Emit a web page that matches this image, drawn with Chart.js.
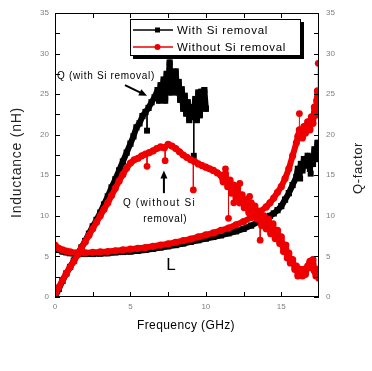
<!DOCTYPE html>
<html>
<head>
<meta charset="utf-8">
<script src="https://cdn.jsdelivr.net/npm/chart.js@4.4.0/dist/chart.umd.min.js"></script>
<style>
html, body { margin: 0; padding: 0; background: #fff; }
</style>
</head>
<body>
<canvas id="chart" width="372" height="371"></canvas>
<script>
// axis ticks
var xTicks = [0, 5, 10, 15];
var xMinor = [2.5, 7.5, 12.5];
var yTicks = [0, 5, 10, 15, 20, 25, 30, 35];
var yMinor = [2.5, 7.5, 12.5, 17.5, 22.5, 27.5, 32.5];

var seriesNames = ['With Si removal', 'Without Si removal'];

// Q-factor, with Si removal  [GHz, Q]
var qWith = [[0,0],[0.25,1.0],[0.5,2.0],[0.75,2.9],[1,3.7],[1.25,4.5],[1.5,5.3],[1.75,6.1],[2,6.9],[2.25,7.8],[2.5,8.7],[2.75,9.5],
  [3,10.4],[3.25,11.4],[3.5,12.4],[3.75,13.5],[4,14.5],[4.25,15.6],[4.5,16.7],[4.75,17.8],[5,18.9],[5.2,19.8],[5.4,20.9],[5.6,21.4],
  [5.8,22.3],[6,22.8],[6.2,23.3],[6.4,24.0],[6.6,24.6],[6.8,25.5],[6.9,24.2],[7,26.1],[7.1,25.3],[7.2,26.8],[7.3,24.2],
  [7.4,27.5],[7.5,26.2],[7.6,28.9],[7.7,25.2],[7.8,27.2],[7.9,26.0],[8,27.8],[8.1,25.2],[8.2,26.5],[8.3,24.3],[8.4,25.6],[8.5,23.2],
  [8.6,24.8],[8.7,22.6],[8.8,24.0],[8.9,21.8],[9,23.4],[9.1,22.2],[9.2,23.0],[9.3,24.4],[9.4,21.8],[9.5,25.2],[9.6,22.4],[9.7,25.3],
  [9.8,23.5],[9.9,25.5],[10,23.2]];
// isolated points hanging off the band: [GHz, band value, point value]
var qWithSpikes = [[6.1,22.9,20.5],[9.2,22.6,17.4]];

// Q-factor, without Si removal
var qWithout = [[0,0.2],[0.25,1.2],[0.5,2.1],[0.75,2.9],[1,3.7],[1.25,4.4],[1.5,5.2],[1.75,6.0],[2,6.8],[2.25,7.6],[2.5,8.4],[2.75,9.2],
  [3,10.0],[3.25,10.8],[3.5,11.6],[3.75,12.5],[4,13.4],[4.25,14.3],[4.5,15.1],[4.75,15.9],[5,16.5],[5.25,16.9],[5.5,17.1],[5.75,17.4],
  [6,17.6],[6.25,17.8],[6.5,18.0],[6.75,18.3],[7,18.5],[7.25,18.4],[7.5,18.8],[7.75,18.6],[8,18.3],[8.25,17.9],
  [8.5,17.5],[8.75,17.2],[9,16.9],[9.25,16.7],[9.5,16.4],[9.75,16.2],[10,16.0],[10.25,15.8],[10.5,15.6],[10.75,15.3],
  [11,15.0],[11.15,14.2],[11.3,15.2],[11.45,13.6],[11.6,14.4],[11.7,12.8],[11.85,13.8],[12,12.2],[12.1,13.4],[12.25,11.6],
  [12.4,12.6],[12.55,11.0],[12.7,12.0],[12.85,10.4],[13,11.6],[13.1,10.0],[13.25,11.2],[13.4,9.6],[13.5,10.6],[13.7,8.8],
  [13.85,10.0],[14,8.4],[14.15,9.6],[14.3,7.8],[14.45,9.0],[14.6,7.2],[14.75,8.2],[14.9,6.6],[15,7.4],[15.15,5.6],[15.3,6.4],[15.4,4.8],
  [15.5,5.4],[15.6,4.2],[15.75,4.6],[15.9,3.4],[16,3.8],[16.1,2.6],[16.25,3.4],[16.4,2.6],[16.5,3.4],[16.6,2.8],[16.75,3.8],[16.9,4.4],
  [17,3.6],[17.1,4.6],[17.2,3.2],[17.3,2.6],[17.4,3.4],[17.5,2.3]];
var qWithoutSpikes = [[6.1,17.65,16.1],[7.3,18.5,16.8],[9.17,16.8,13.2],[11.3,15.0,15.8],[11.5,13.8,9.7],[12.25,12.0,14.0],
  [12.9,11.0,12.4],[13.6,9.8,7.0],[11.85,13.4,11.6]];

// inductance, with Si removal  [GHz, nH]
var lWith = [[0,6.2],[0.25,5.8],[0.5,5.6],[0.75,5.5],[1,5.4],[1.5,5.3],[2,5.3],[2.5,5.3],[3,5.35],[3.5,5.4],[4,5.5],[4.5,5.55],
  [5,5.6],[5.5,5.7],[6,5.8],[6.5,5.95],[7,6.1],[7.5,6.25],[8,6.4],[8.5,6.6],[9,6.8],[9.5,7.0],[10,7.2],[10.5,7.4],[11,7.6],[11.5,7.85],
  [12,8.1],[12.5,8.4],[13,8.8],[13.5,9.3],[14,9.8],[14.25,10.0],[14.5,10.3],[14.75,10.7],[15,11.2],[15.25,12.0],[15.5,12.8],
  [15.75,13.8],[16,14.8],[16.1,15.8],[16.2,15.0],[16.3,16.4],[16.4,15.6],[16.5,17.0],[16.6,16.2],[16.75,17.4],[16.9,15.8],[17,17.2],
  [17.1,16.4],[17.2,18.2],[17.3,17.0],[17.4,19.0],[17.5,18.0]];
var lWithSpikes = [[16.25,15.6,14.6],[16.95,16.4,15.2]];

// inductance, without Si removal
var lWithout = [[0,6.4],[0.25,6.0],[0.5,5.8],[0.75,5.65],[1,5.55],[1.5,5.45],[2,5.45],[2.5,5.5],[3,5.55],[3.5,5.6],[4,5.7],[4.5,5.8],
  [5,5.9],[5.5,6.0],[6,6.1],[6.5,6.25],[7,6.4],[7.5,6.55],[8,6.75],[8.5,6.95],[9,7.15],[9.5,7.4],[10,7.65],[10.5,7.9],[11,8.2],
  [11.5,8.5],[12,8.9],[12.5,9.3],[13,9.8],[13.5,10.4],[14,11.1],[14.25,11.6],[14.5,12.2],[14.75,12.9],[15,13.6],[15.25,14.6],
  [15.5,15.8],[15.75,17.4],[16,19.0],[16.1,19.8],[16.2,20.6],[16.3,20.2],[16.4,19.6],[16.5,21.0],[16.6,20.2],[16.75,21.6],[16.9,20.6],
  [17,22.2],[17.1,21.4],[17.2,23.4],[17.3,22.4],[17.35,24.2],[17.4,25.4],[17.5,24.0]];
var lWithoutSpikes = [[16.2,20.6,22.6],[17.45,25.4,28.8]];

function pts(arr) {
  return arr.map(function (p) { return { x: p[0], y: p[1] }; });
}
// each spike: band point, loose point, then a gap
function spikePts(arr) {
  var out = [];
  arr.forEach(function (s) {
    out.push({ x: s[0], y: s[1] }, { x: s[0], y: s[2] }, { x: s[0], y: null });
  });
  return out;
}

var FONT = 'Liberation Sans, Arial, sans-serif';
var RED = '#ee0000';

// draw text stretched to a given width (the original has wide letter spacing)
function spacedText(ctx, text, x, y, width) {
  ctx.letterSpacing = '0px';
  var w = ctx.measureText(text).width;
  var sp = (width - w) / text.length;
  ctx.letterSpacing = sp + 'px';
  ctx.textAlign = 'left';
  ctx.fillText(text, x, y);
  ctx.letterSpacing = '0px';
}

function arrow(ctx, x1, y1, x2, y2) {
  var a = Math.atan2(y2 - y1, x2 - x1);
  ctx.beginPath();
  ctx.moveTo(x1, y1);
  ctx.lineTo(x2 - 5 * Math.cos(a), y2 - 5 * Math.sin(a));
  ctx.lineWidth = 2;
  ctx.strokeStyle = '#000';
  ctx.stroke();
  ctx.beginPath();
  ctx.moveTo(x2, y2);
  ctx.lineTo(x2 - 8 * Math.cos(a) + 3.5 * Math.sin(a), y2 - 8 * Math.sin(a) - 3.5 * Math.cos(a));
  ctx.lineTo(x2 - 8 * Math.cos(a) - 3.5 * Math.sin(a), y2 - 8 * Math.sin(a) + 3.5 * Math.cos(a));
  ctx.closePath();
  ctx.fillStyle = '#000';
  ctx.fill();
}

var decor = {
  id: 'decor',
  afterDraw: function (chart) {
    var ctx = chart.ctx;
    var a = chart.chartArea;
    var sx = chart.scales.x, sy = chart.scales.y;
    ctx.save();

    // frame
    ctx.strokeStyle = '#000';
    ctx.lineWidth = 1;
    ctx.strokeRect(a.left + 0.5, a.top + 0.5, a.right - a.left - 1, a.bottom - a.top - 1);

    // inward ticks on all four sides
    ctx.beginPath();
    xTicks.concat(xMinor).forEach(function (v) {
      var px = Math.round(sx.getPixelForValue(v)) + 0.5;
      ctx.moveTo(px, a.bottom); ctx.lineTo(px, a.bottom - 5);
      ctx.moveTo(px, a.top); ctx.lineTo(px, a.top + 5);
    });
    yTicks.concat(yMinor).forEach(function (v) {
      var py = Math.round(sy.getPixelForValue(v)) + 0.5;
      ctx.moveTo(a.left, py); ctx.lineTo(a.left + 5, py);
      ctx.moveTo(a.right, py); ctx.lineTo(a.right - 5, py);
    });
    ctx.stroke();

    // axis titles
    ctx.fillStyle = '#222';
    ctx.textBaseline = 'middle';
    ctx.font = '14px ' + FONT;
    ctx.save();
    ctx.translate(17, 218);
    ctx.rotate(-Math.PI / 2);
    spacedText(ctx, 'Inductance (nH)', 0, 0, 111);
    ctx.restore();
    ctx.font = '13px ' + FONT;
    ctx.save();
    ctx.translate(358, 194);
    ctx.rotate(-Math.PI / 2);
    spacedText(ctx, 'Q-factor', 0, 0, 52);
    ctx.restore();
    ctx.fillStyle = '#000';
    ctx.font = '12px ' + FONT;
    spacedText(ctx, 'Frequency (GHz)', 137, 326, 98);

    // annotations
    ctx.font = '10px ' + FONT;
    spacedText(ctx, 'Q (with Si removal)', sx.getPixelForValue(0.13), sy.getPixelForValue(27.2), 98);
    spacedText(ctx, 'Q (without Si', sx.getPixelForValue(4.5), sy.getPixelForValue(11.6), 73);
    spacedText(ctx, 'removal)', sx.getPixelForValue(5.85), sy.getPixelForValue(9.6), 44);
    arrow(ctx, sx.getPixelForValue(4.64), sy.getPixelForValue(26.1), sx.getPixelForValue(6.1), sy.getPixelForValue(24.8));
    arrow(ctx, sx.getPixelForValue(7.22), sy.getPixelForValue(12.8), sx.getPixelForValue(7.22), sy.getPixelForValue(15.6));
    ctx.font = '17px ' + FONT;
    ctx.textAlign = 'center';
    ctx.fillText('L', sx.getPixelForValue(7.69), sy.getPixelForValue(3.95));

    // legend box with drop shadow
    var lx = 130, ly = 19, lw = 170, lh = 36;
    ctx.fillStyle = '#000';
    ctx.fillRect(lx + 3, ly + 3, lw + 1, lh + 1);
    ctx.fillStyle = '#fff';
    ctx.fillRect(lx, ly, lw, lh);
    ctx.strokeStyle = '#000';
    ctx.lineWidth = 1;
    ctx.strokeRect(lx + 0.5, ly + 0.5, lw, lh);
    var colors = ['#000', RED];
    seriesNames.forEach(function (name, i) {
      var yy = ly + 11 + i * 17;
      ctx.strokeStyle = colors[i];
      ctx.fillStyle = colors[i];
      ctx.lineWidth = 1.5;
      ctx.beginPath();
      ctx.moveTo(lx + 3, yy); ctx.lineTo(lx + 43, yy);
      ctx.stroke();
      if (i === 0) {
        ctx.fillRect(lx + 25, yy - 2.5, 5, 5);
      } else {
        ctx.beginPath();
        ctx.arc(lx + 27.5, yy, 3, 0, Math.PI * 2);
        ctx.fill();
      }
      ctx.fillStyle = '#000';
      ctx.font = '11.5px ' + FONT;
      spacedText(ctx, name, lx + 47, yy + 1, i === 0 ? 91 : 109);
    });

    ctx.restore();
  }
};

// dense band of markers: thick line plus markers
function series(data, color, style, axis) {
  return {
    data: pts(data),
    showLine: true,
    borderColor: color,
    backgroundColor: color,
    borderWidth: 6,
    borderJoinStyle: 'round',
    borderCapStyle: 'round',
    pointStyle: style,
    pointRadius: style === 'rect' ? 4.4 : 3.6,
    pointBorderWidth: 0,
    pointBackgroundColor: color,
    yAxisID: axis
  };
}
// thin line out to a loose marker
function spikes(data, color, style, axis) {
  return {
    data: spikePts(data),
    showLine: true,
    spanGaps: false,
    borderColor: color,
    backgroundColor: color,
    borderWidth: 1,
    pointStyle: style,
    pointRadius: function (c) { return c.dataIndex % 3 === 1 ? (style === 'rect' ? 4.2 : 3.4) : 0; },
    pointBorderWidth: 0,
    pointBackgroundColor: color,
    yAxisID: axis
  };
}

var tickFont = { family: FONT, size: 8 };

new Chart(document.getElementById('chart'), {
  type: 'scatter',
  data: {
    datasets: [
      series(qWithout, RED, 'circle', 'y2'),
      spikes(qWithoutSpikes, RED, 'circle', 'y2'),
      series(lWithout, RED, 'circle', 'y'),
      spikes(lWithoutSpikes, RED, 'circle', 'y'),
      series(qWith, '#000', 'rect', 'y2'),
      spikes(qWithSpikes, '#000', 'rect', 'y2'),
      series(lWith, '#000', 'rect', 'y'),
      spikes(lWithSpikes, '#000', 'rect', 'y')
    ]
  },
  options: {
    responsive: false,
    animation: false,
    events: [],
    layout: { autoPadding: false, padding: { top: 13, left: 0, right: 0, bottom: 0 } },
    plugins: { legend: { display: false }, tooltip: { enabled: false } },
    scales: {
      x: {
        type: 'linear', min: 0, max: 17.5,
        grid: { display: false, drawTicks: false }, border: { display: false },
        ticks: { color: '#808080', font: tickFont, padding: 5, maxRotation: 0 },
        afterBuildTicks: function (s) { s.ticks = xTicks.map(function (v) { return { value: v }; }); },
        afterFit: function (s) { s.height = 74; }
      },
      y: {
        position: 'left', min: 0, max: 35,
        grid: { display: false, drawTicks: false }, border: { display: false },
        ticks: { color: '#808080', font: tickFont, padding: 6 },
        afterBuildTicks: function (s) { s.ticks = yTicks.map(function (v) { return { value: v }; }); },
        afterFit: function (s) { s.width = 55; }
      },
      y2: {
        position: 'right', min: 0, max: 35,
        grid: { display: false, drawTicks: false }, border: { display: false },
        ticks: { color: '#808080', font: tickFont, padding: 7 },
        afterBuildTicks: function (s) { s.ticks = yTicks.map(function (v) { return { value: v }; }); },
        afterFit: function (s) { s.width = 53; }
      }
    }
  },
  plugins: [decor]
});
</script>
</body>
</html>
